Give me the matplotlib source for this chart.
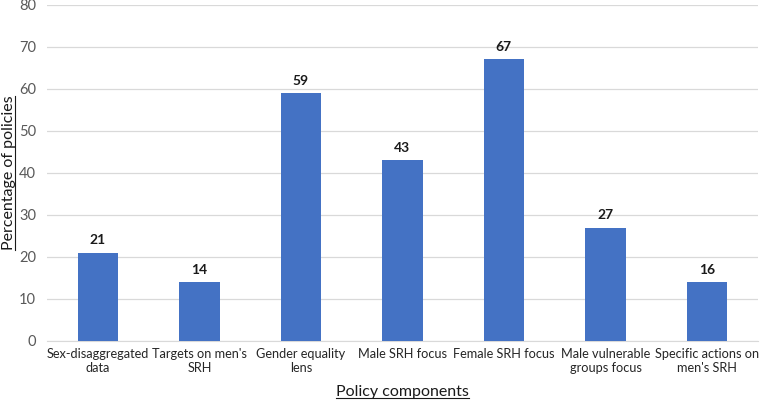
import matplotlib
matplotlib.use("Agg")
import matplotlib.pyplot as plt
import numpy as np

plt.rcParams['font.family'] = ['Lato', 'DejaVu Sans']

categories = ["Sex-disaggregated\ndata", "Targets on men's\nSRH", "Gender equality\nlens",
              "Male SRH focus", "Female SRH focus", "Male vulnerable\ngroups focus",
              "Specific actions on\nmen's SRH"]
heights = [21, 14, 59, 43, 67, 27, 14]
value_labels = ["21", "14", "59", "43", "67", "27", "16"]

fig = plt.figure(figsize=(7.6, 4.04), dpi=100)
ax = fig.add_axes([0.062, 0.156, 0.935, 0.832])

x = np.arange(len(categories))
ax.bar(x, heights, width=0.4, color="#4472C4", zorder=3)

for xi, h, lab in zip(x, heights, value_labels):
    ax.text(xi, h + 1.5, lab, ha="center", va="bottom", fontsize=10,
            fontweight="bold", color="#1a1a1a")

ax.set_xlim(-0.5, len(categories) - 0.5)
ax.set_ylim(0, 80)
ax.set_yticks(range(0, 81, 10))
ax.set_xticks(x)
ax.set_xticklabels(categories, fontsize=9.2, color="#262626", linespacing=1.25)
ax.tick_params(axis="y", labelsize=10.5, colors="#595959", length=0, pad=8)
ax.tick_params(axis="x", length=0, pad=5)
ax.grid(axis="y", color="#d9d9d9", linewidth=0.9, zorder=0)

for s in ["top", "right", "left"]:
    ax.spines[s].set_visible(False)
ax.spines["bottom"].set_color("#d9d9d9")

# axis titles with underline
xt = fig.text(0.5 * (0.062 + 0.997), 0.012, "Policy components", ha="center",
              va="bottom", fontsize=11.5, color="#1a1a1a")
yt = fig.text(0.002, 0.156 + 0.832 / 2, "Percentage of policies", ha="left",
              va="center", rotation=90, fontsize=11.5, color="#1a1a1a")

fig.canvas.draw()
r = fig.canvas.get_renderer()
inv = fig.transFigure.inverted()
bb = xt.get_window_extent(r).transformed(inv)
fig.add_artist(plt.Line2D([bb.x0, bb.x1], [bb.y0 + 0.002, bb.y0 + 0.002],
                          transform=fig.transFigure, color="#1a1a1a", linewidth=0.8))
bb = yt.get_window_extent(r).transformed(inv)
fig.add_artist(plt.Line2D([bb.x1 - 0.001, bb.x1 - 0.001], [bb.y0, bb.y1],
                          transform=fig.transFigure, color="#1a1a1a", linewidth=0.8))

fig.savefig("out.png", dpi=100)
